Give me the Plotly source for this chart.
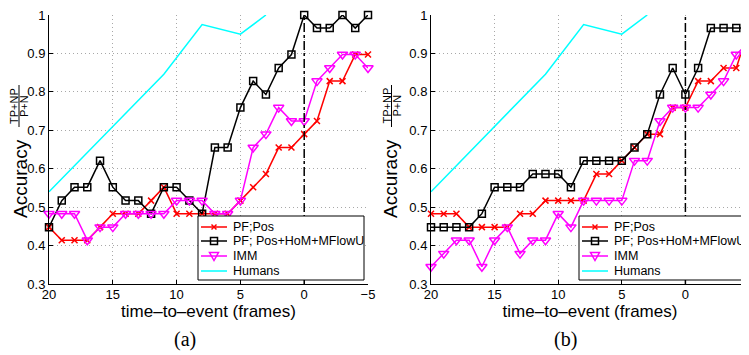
import plotly.graph_objects as go

# ---------------- data ----------------
frames = [20, 19, 18, 17, 16, 15, 14, 13, 12, 11, 10, 9, 8, 7, 6, 5, 4, 3, 2, 1, 0, -1, -2, -3, -4, -5]

# panel (a)
pf_pos_a = [0.448, 0.414, 0.414, 0.414, 0.448, 0.483, 0.483, 0.483, 0.517, 0.552, 0.483, 0.483, 0.483,
            0.483, 0.483, 0.517, 0.552, 0.586, 0.655, 0.655, 0.690, 0.724, 0.828, 0.828, 0.897, 0.897]
pf_full_a = [0.448, 0.517, 0.552, 0.552, 0.621, 0.552, 0.517, 0.517, 0.483, 0.552, 0.552, 0.517, 0.483,
             0.655, 0.655, 0.759, 0.828, 0.793, 0.862, 0.897, 1.000, 0.966, 0.966, 1.000, 0.966, 1.000]
imm_a = [0.483, 0.483, 0.483, 0.414, 0.448, 0.448, 0.483, 0.483, 0.483, 0.483, 0.517, 0.517, 0.517,
         0.483, 0.483, 0.517, 0.655, 0.690, 0.759, 0.724, 0.724, 0.828, 0.862, 0.897, 0.897, 0.862]

# panel (b)
pf_pos_b = [0.483, 0.483, 0.483, 0.448, 0.448, 0.448, 0.448, 0.483, 0.483, 0.517, 0.517, 0.517, 0.517,
            0.586, 0.586, 0.621, 0.655, 0.690, 0.690, 0.759, 0.759, 0.828, 0.828, 0.862, 0.862, 0.966]
pf_full_b = [0.448, 0.448, 0.448, 0.448, 0.483, 0.552, 0.552, 0.552, 0.586, 0.586, 0.586, 0.552, 0.621,
             0.621, 0.621, 0.621, 0.655, 0.690, 0.793, 0.862, 0.793, 0.862, 0.966, 0.966, 0.966, 0.966]
imm_b = [0.345, 0.379, 0.414, 0.414, 0.345, 0.414, 0.448, 0.379, 0.414, 0.414, 0.483, 0.448, 0.517,
         0.517, 0.517, 0.517, 0.621, 0.621, 0.724, 0.759, 0.759, 0.759, 0.793, 0.828, 0.897, 0.931]

# humans (same in both panels)
human_frames = [20, 11, 8, 5, 3]
human_acc = [0.540, 0.846, 0.975, 0.950, 1.000]

event_frame = 0
series_names = ["PF;Pos", "PF; Pos+HoM+MFlowU", "IMM", "Humans"]
series_colors = ["#ff0000", "#000000", "#ff00ff", "#00ffff"]
x_tick_vals = [20, 15, 10, 5, 0, -5]
y_tick_vals = [0.3, 0.4, 0.5, 0.6, 0.7, 0.8, 0.9, 1.0]
y_tick_text = ["0.3", "0.4", "0.5", "0.6", "0.7", "0.8", "0.9", "1"]
x_title = "time–to–event (frames)"
captions = ["(a)", "(b)"]

# ---------------- figure ----------------
# the page body keeps an 8px margin, so the figure is 8px smaller on each axis
PAGE_W, PAGE_H, BODY = 749, 355, 8
W, H = PAGE_W - BODY, PAGE_H - BODY
FONT = "Liberation Sans, Arial, Helvetica, sans-serif"


def px(p):
    """page pixel (x) -> paper fraction"""
    return (p - BODY) / W


def py(p):
    """page pixel (y, from top) -> paper fraction"""
    return 1 - (p - BODY) / H


fig = go.Figure()

panels = [
    ("x", "y", pf_pos_a, pf_full_a, imm_a),
    ("x2", "y2", pf_pos_b, pf_full_b, imm_b),
]
for xa, ya, pfp, pff, imm in panels:
    fig.add_trace(go.Scatter(
        x=frames, y=pfp, name=series_names[0], xaxis=xa, yaxis=ya, showlegend=False,
        mode="lines+markers", cliponaxis=False,
        line=dict(color=series_colors[0], width=1.5),
        marker=dict(symbol="x-thin-open", size=6, color=series_colors[0],
                    line=dict(color=series_colors[0], width=1.5))))
    fig.add_trace(go.Scatter(
        x=frames, y=pff, name=series_names[1], xaxis=xa, yaxis=ya, showlegend=False,
        mode="lines+markers", cliponaxis=False,
        line=dict(color=series_colors[1], width=1.5),
        marker=dict(symbol="square-open", size=7, color=series_colors[1],
                    line=dict(color=series_colors[1], width=1.5))))
    fig.add_trace(go.Scatter(
        x=frames, y=imm, name=series_names[2], xaxis=xa, yaxis=ya, showlegend=False,
        mode="lines+markers", cliponaxis=False,
        line=dict(color=series_colors[2], width=1.5),
        marker=dict(symbol="triangle-down-open", size=9, color=series_colors[2],
                    line=dict(color=series_colors[2], width=1.5))))
    fig.add_trace(go.Scatter(
        x=human_frames, y=human_acc, name=series_names[3], xaxis=xa, yaxis=ya, showlegend=False,
        mode="lines", cliponaxis=False,
        line=dict(color=series_colors[3], width=1.5)))

axis_common = dict(
    showline=True, linecolor="black", linewidth=1, mirror=False,
    ticks="inside", ticklen=4, tickcolor="black",
    showgrid=True, gridcolor="#a8a8a8", griddash="1px,3px", gridwidth=1,
    zeroline=False, tickfont=dict(family=FONT, size=13, color="black"),
    ticklabeloverflow="allow", automargin=False,
)

x_dom_a = [px(49), px(368)]
x_dom_b = [px(431), 1.0]
y_dom = [py(284), py(15)]

fig.update_layout(
    width=W, height=H,
    margin=dict(l=0, r=0, t=0, b=0),
    paper_bgcolor="white", plot_bgcolor="white",
    font=dict(family=FONT, color="black"),
    showlegend=False,
    xaxis=dict(domain=x_dom_a, range=[20, -5], tickvals=x_tick_vals, anchor="y",
               ticklabelstandoff=-2,
               title=dict(text=x_title, font=dict(size=17), standoff=0), **axis_common),
    yaxis=dict(domain=y_dom, range=[0.3, 1.0], tickvals=y_tick_vals, ticktext=y_tick_text,
               anchor="x", **axis_common),
    xaxis2=dict(domain=x_dom_b, range=[20, -5], tickvals=x_tick_vals, anchor="y2",
                ticklabelstandoff=-2,
                title=dict(text=x_title, font=dict(size=17), standoff=0), **axis_common),
    yaxis2=dict(domain=y_dom, range=[0.3, 1.0], tickvals=y_tick_vals, ticktext=y_tick_text,
                anchor="x2", **axis_common),
)

shapes = []
annotations = []

# (axis refs, centres of: Accuracy, numerator, bar, denominator)
ylabel_pos = [("x", "y", (20, 14, 19, 24)), ("x2", "y2", (390, 386.5, 391.5, 396.5))]
for xa, ya, (acc_x, num_x, bar_x, den_x) in ylabel_pos:
    # event line
    shapes.append(dict(type="line", xref=xa, yref=f"{ya} domain",
                       x0=event_frame, x1=event_frame, y0=0, y1=1,
                       line=dict(color="black", width=1.5, dash="dashdot"), layer="above"))
    # y label: Accuracy + fraction
    annotations.append(dict(text="Accuracy", x=px(acc_x), y=py(179), xref="paper", yref="paper",
                            textangle=-90, showarrow=False, xanchor="center", yanchor="middle",
                            font=dict(family=FONT, size=19, color="black")))
    annotations.append(dict(text="TP+NP", x=px(num_x), y=py(106), xref="paper", yref="paper",
                            textangle=-90, showarrow=False, xanchor="center", yanchor="middle",
                            font=dict(family=FONT, size=11, color="black")))
    annotations.append(dict(text="P+N", x=px(den_x), y=py(106), xref="paper", yref="paper",
                            textangle=-90, showarrow=False, xanchor="center", yanchor="middle",
                            font=dict(family=FONT, size=11, color="black")))
    shapes.append(dict(type="line", xref="paper", yref="paper",
                       x0=px(bar_x), x1=px(bar_x), y0=py(85), y1=py(127),
                       line=dict(color="black", width=1)))

# legends (drawn as a boxed key in each panel)
for dx in [0, 381]:
    shapes.append(dict(type="rect", xref="paper", yref="paper",
                       x0=px(198 + dx), x1=px(364 + dx), y0=py(280), y1=py(216),
                       fillcolor="white", line=dict(color="black", width=1), layer="above"))
    rows = [227, 241, 256, 271]
    cx = 214 + dx
    for i, (name, col) in enumerate(zip(series_names, series_colors)):
        cy = rows[i]
        shapes.append(dict(type="line", xref="paper", yref="paper",
                           x0=px(201 + dx), x1=px(227 + dx), y0=py(cy), y1=py(cy),
                           line=dict(color=col, width=1.5), layer="above"))
        if i == 0:
            for sgn in (1, -1):
                shapes.append(dict(type="line", xref="paper", yref="paper",
                                   x0=px(cx - 2.5), x1=px(cx + 2.5),
                                   y0=py(cy - 2.5 * sgn), y1=py(cy + 2.5 * sgn),
                                   line=dict(color=col, width=1.5), layer="above"))
        elif i == 1:
            shapes.append(dict(type="rect", xref="paper", yref="paper",
                               x0=px(cx - 3.5), x1=px(cx + 3.5), y0=py(cy + 3.5), y1=py(cy - 3.5),
                               line=dict(color=col, width=1.5), layer="above"))
        elif i == 2:
            path = "M {:.5f},{:.5f} L {:.5f},{:.5f} L {:.5f},{:.5f} Z".format(
                px(cx - 4.5), py(cy - 3.5), px(cx + 4.5), py(cy - 3.5), px(cx), py(cy + 4.5))
            shapes.append(dict(type="path", xref="paper", yref="paper", path=path,
                               line=dict(color=col, width=1.5), layer="above"))
        annotations.append(dict(text=name, x=px(231 + dx), y=py(cy), xref="paper", yref="paper",
                                showarrow=False, xanchor="left", yanchor="middle",
                                font=dict(family=FONT, size=12.5, color="black")))

for cap, cxp in zip(captions, [185, 565]):
    annotations.append(dict(text=cap, x=px(cxp), y=py(339), xref="paper", yref="paper",
                            showarrow=False, xanchor="center", yanchor="middle",
                            font=dict(family="Liberation Serif, Times New Roman, serif", size=20,
                                      color="black")))

fig.update_layout(shapes=shapes, annotations=annotations)

fig.write_html("out.html")
